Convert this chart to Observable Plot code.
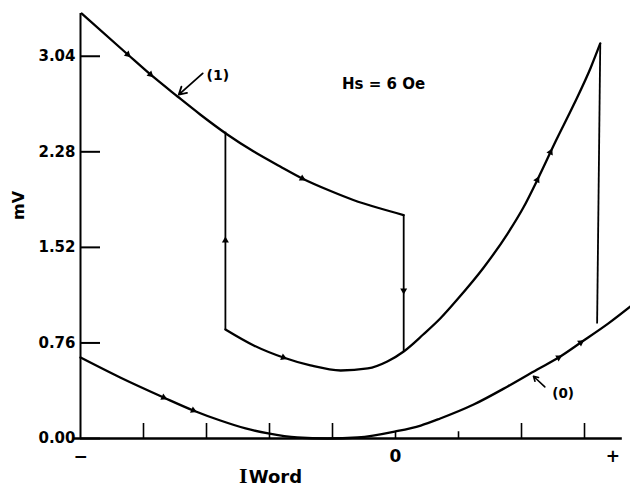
<!DOCTYPE html>
<html>
<head>
<meta charset="utf-8">
<script src="https://cdn.jsdelivr.net/npm/d3@7"></script>
<script src="https://cdn.jsdelivr.net/npm/@observablehq/plot@0.6"></script>
<style>
  body { margin: 0; background: #fff; }
  #chart svg { display: block; }
</style>
</head>
<body>
<div id="chart"></div>
<script>
// Word current (arbitrary units, 0 = no current) against sense output (mV), Hs = 6 Oe.

// Curve (0): single-valued response
const zeroX = [-5.00, -4.37, -3.68, -3.21, -2.78, -2.38, -2.02, -1.56, -1.08, -0.60, 0.00, 0.40, 0.71, 1.24, 1.78, 2.25, 2.59, 2.94, 3.38, 3.73];
const zeroY = [0.644, 0.485, 0.326, 0.223, 0.143, 0.080, 0.040, 0.008, 0.000, 0.008, 0.056, 0.103, 0.159, 0.270, 0.414, 0.549, 0.644, 0.763, 0.915, 1.050];

// Curve (1): upper branch, swept from the negative end
const upperX = [-4.98, -4.25, -3.89, -3.46, -3.10, -2.67, -2.25, -1.83, -1.48, -1.03, -0.67, -0.24, 0.13];
const upperY = [3.380, 3.054, 2.895, 2.720, 2.577, 2.418, 2.282, 2.163, 2.068, 1.968, 1.897, 1.829, 1.777];

// Curve (1): lower branch, rising to the positive end
const lowerX = [-2.70, -2.25, -1.78, -1.35, -0.87, -0.44, -0.13, 0.13, 0.44, 0.71, 0.98, 1.40, 1.78, 2.03, 2.27, 2.54, 2.83, 3.10, 3.25];
const lowerY = [0.867, 0.740, 0.644, 0.581, 0.541, 0.557, 0.612, 0.692, 0.827, 0.954, 1.105, 1.360, 1.630, 1.837, 2.076, 2.362, 2.656, 2.951, 3.142];

// Switching jumps of curve (1)
const jumpX1 = [-2.70, 0.13, 3.25];
const jumpX2 = [-2.70, 0.13, 3.20];
const jumpFrom = [0.867, 1.777, 3.142];
const jumpTo = [2.440, 0.692, 0.915];

// Sweep-direction markers
const markUpper = [-4.25, -3.89, -1.48];
const markLower = [-1.78, 2.25, 2.46];
const markZero = [-3.68, -3.21, 2.59, 2.94];
const markJumpX = [-2.70, 0.13];
const markJumpY = [1.575, 1.177];
const markJumpDir = ["up", "down"];

// Axes
const yTicks = [0.00, 0.76, 1.52, 2.28, 3.04];
const xTicks = [-4, -3, -2, -1, 0, 1, 2, 3];
const xLabelPos = [-5, 0, 3.45];
const xLabelText = ["\u2212", "0", "+"];

// Layout
const W = 630, H = 501, ML = 80, MR = 0, MT = 13, MB = 63;
const xMin = -5, xMax = 3.73, yMin = 0, yMax = 3.38;
const kx = (W - ML - MR) / (xMax - xMin);   // px per x unit
const ky = (H - MT - MB) / (yMax - yMin);   // px per y unit

const toPoints = (xs, ys) => xs.map((x, i) => ({x, y: ys[i]}));
const zero = toPoints(zeroX, zeroY);
const upper = toPoints(upperX, upperY);
const lower = toPoints(lowerX, lowerY);
const jumps = jumpX1.map((x, i) => ({x1: x, x2: jumpX2[i], y1: jumpFrom[i], y2: jumpTo[i]}));

// place a marker on a polyline and orient it along the sweep direction
function onCurve(xs, ys, x) {
  let i = 0;
  while (i < xs.length - 2 && xs[i + 1] < x) i++;
  const t = (x - xs[i]) / (xs[i + 1] - xs[i]);
  const y = ys[i] + t * (ys[i + 1] - ys[i]);
  const ang = Math.atan2(-(ys[i + 1] - ys[i]) * ky, (xs[i + 1] - xs[i]) * kx) * 180 / Math.PI;
  return {x, y, rotate: ang + 90};
}
const markers = [
  ...markUpper.map(x => onCurve(upperX, upperY, x)),
  ...markLower.map(x => onCurve(lowerX, lowerY, x)),
  ...markZero.map(x => onCurve(zeroX, zeroY, x)),
  ...markJumpX.map((x, i) => ({x, y: markJumpY[i], rotate: markJumpDir[i] === "up" ? 0 : 180}))
];

const font = "DejaVu Sans, Liberation Sans, sans-serif";
const xTickLen = 15 / ky;
const yTickLen = 20 / kx;
const smooth = "monotone-x";

const chart = Plot.plot({
  width: W,
  height: H,
  marginLeft: ML,
  marginRight: MR,
  marginTop: MT,
  marginBottom: MB,
  style: {background: "#fff", color: "#000", fontFamily: font},
  x: {domain: [xMin, xMax]},
  y: {domain: [yMin, yMax]},
  marks: [
    // axis lines and inward ticks
    Plot.ruleX([xMin], {y1: yMin, y2: yMax, strokeWidth: 2}),
    Plot.ruleY([0], {x1: xMin - 0.1, x2: 3.6, strokeWidth: 2.5}),
    Plot.ruleX(xTicks, {y1: 0, y2: d => (d === 0 || d === 1 ? 0.45 : 1) * xTickLen, strokeWidth: 1.6}),
    Plot.ruleY(yTicks, {x1: xMin, x2: xMin + yTickLen, strokeWidth: 2}),
    Plot.axisY(yTicks, {
      tickSize: 0, tickPadding: 5, tickFormat: d3.format(".2f"), label: null,
      fontSize: 15, fontWeight: "bold"
    }),
    Plot.axisX(xLabelPos, {
      tickSize: 0, tickPadding: 11, label: null,
      tickFormat: d => xLabelText[xLabelPos.indexOf(d)],
      fontSize: 17, fontWeight: "bold"
    }),
    Plot.text(["mV"], {frameAnchor: "left", dx: -62, dy: -6, rotate: -90, fontSize: 16, fontWeight: "bold"}),
    Plot.text(["I"], {x: -2.35, frameAnchor: "bottom", dy: 44, textAnchor: "end", fontFamily: "Liberation Serif, serif", fontSize: 22, fontWeight: "bold"}),
    Plot.text(["Word"], {x: -2.33, frameAnchor: "bottom", dy: 44, textAnchor: "start", fontSize: 18, fontWeight: 600}),

    // curves
    Plot.line(zero, {x: "x", y: "y", curve: smooth, strokeWidth: 2.3}),
    Plot.line(upper, {x: "x", y: "y", curve: smooth, strokeWidth: 2.3}),
    Plot.line(lower, {x: "x", y: "y", curve: smooth, strokeWidth: 2.3}),
    Plot.link(jumps, {x1: "x1", x2: "x2", y1: "y1", y2: "y2", strokeWidth: 1.8}),
    Plot.dot(markers, {x: "x", y: "y", rotate: "rotate", symbol: "triangle", r: 2.6, fill: "#000", stroke: null}),

    // annotations
    Plot.arrow([{x1: -3.06, y1: 2.904, x2: -3.44, y2: 2.735}], {x1: "x1", y1: "y1", x2: "x2", y2: "y2", headLength: 7, strokeWidth: 1.8}),
    Plot.text(["(1)"], {x: -2.82, y: 2.89, fontSize: 14, fontWeight: "bold"}),
    Plot.arrow([{x1: 2.37, y1: 0.41, x2: 2.19, y2: 0.495}], {x1: "x1", y1: "y1", x2: "x2", y2: "y2", headLength: 6, strokeWidth: 1.6}),
    Plot.text(["(0)"], {x: 2.66, y: 0.36, fontSize: 13.5, fontWeight: "bold"}),
    Plot.text(["Hs = 6 Oe"], {x: -0.19, y: 2.82, fontSize: 15, fontWeight: 600})
  ]
});

document.getElementById("chart").append(chart);
</script>
</body>
</html>
